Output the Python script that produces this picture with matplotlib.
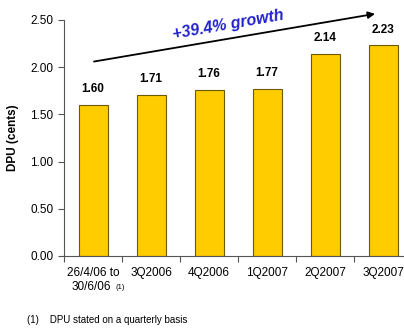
import matplotlib
matplotlib.use("Agg")
import matplotlib.pyplot as plt

labels = ["26/4/06 to", "3Q2006", "4Q2006", "1Q2007", "2Q2007", "3Q2007"]
first_label_line2 = "30/6/06"
dpu = [1.60, 1.71, 1.76, 1.77, 2.14, 2.23]
yticks = [0.0, 0.5, 1.0, 1.5, 2.0, 2.5]

plt.rcParams["font.family"] = ["Liberation Sans", "DejaVu Sans"]

fig = plt.figure(figsize=(4.04, 3.30), dpi=100)
ax = fig.add_axes([64 / 404, 74 / 330, 348 / 404, 236 / 330])

x = range(len(dpu))
bars = ax.bar(x, dpu, width=0.5, color="#FFCC00", edgecolor="#6b5a00", linewidth=0.8, zorder=2)
for b, v in zip(bars, dpu):
    ax.annotate(f"{v:.2f}", (b.get_x() + b.get_width() / 2, v), xytext=(0, 7),
                textcoords="offset points", ha="center", va="bottom",
                fontsize=8.5, fontweight="bold")

ax.set_xlim(-0.5, 5.5)
ax.set_ylim(0, 2.5)
ax.set_yticks(yticks)
ax.set_yticklabels([f"{t:.2f}" for t in yticks], fontsize=8.5)
ax.set_xticks([i - 0.5 for i in range(len(dpu))])
ax.set_xticklabels([])
ax.set_xticks(list(x), minor=True)
ax.set_xticklabels(labels, minor=True, fontsize=8.5, va="top")
ax.tick_params(axis="x", which="minor", length=0, pad=8)
ax.tick_params(axis="x", which="major", length=4, color="#555555", direction="out")
ax.tick_params(axis="y", length=4, color="#555555", direction="out")
for s in ["top", "right"]:
    ax.spines[s].set_visible(False)
ax.spines["left"].set_color("#555555")
ax.spines["bottom"].set_color("#555555")

ax.set_ylabel("DPU (cents)", fontsize=8.5, fontweight="bold", labelpad=8)

xt = ax.get_xaxis_transform()
ax.text(-0.03, -0.108, first_label_line2, fontsize=8.5, transform=xt, ha="center", va="top")
ax.text(0.38, -0.12, "(1)", fontsize=5.5, transform=xt, ha="left", va="top")

ax.annotate("", xy=(4.91, 2.57), xytext=(-0.03, 2.055),
            arrowprops=dict(arrowstyle="-|>", color="black", lw=1.3, mutation_scale=10),
            annotation_clip=False)
ax.text(2.33, 2.45, "+39.4% growth", color="#2222cc", fontsize=11.5, fontweight="bold",
        style="italic", rotation=10, ha="center", va="center", clip_on=False)

fig.text(27 / 404, 1 - 320 / 330, "(1)    DPU stated on a quarterly basis", fontsize=7, va="center")

fig.savefig("out.png", dpi=100)
